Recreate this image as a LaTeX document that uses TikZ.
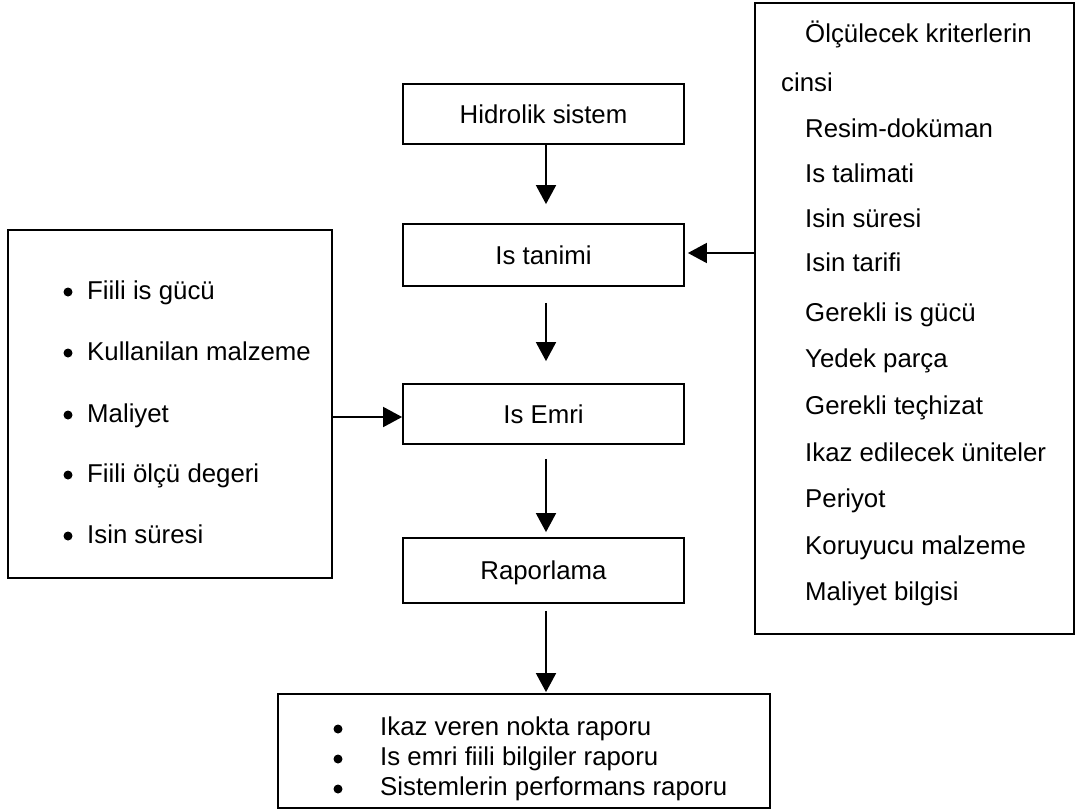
\documentclass[tikz,border=0pt]{standalone}
\usepackage{fontspec}
\setmainfont{Liberation Sans}
\usetikzlibrary{arrows.meta}
\begin{document}
\begin{tikzpicture}[x=1pt,y=-1pt,
  box/.style={draw, line width=1.8pt, inner sep=0pt, text height=18.6pt, text depth=0pt,
              font=\fontsize{25.8}{30}\selectfont},
  txt/.style={anchor=base west, inner sep=0pt, font=\fontsize{25.8}{30}\selectfont},
  arr/.style={-{Triangle[length=19pt,width=20pt]}, line width=1.8pt},
  dot/.style={circle, fill, inner sep=0pt, minimum size=9pt}]
\useasboundingbox (0,0) rectangle (1075,809);

% main column
\node[box, minimum width=281pt, minimum height=60pt] (hid) at (543.5,114) {Hidrolik sistem};
\node[box, minimum width=281pt, minimum height=62pt] (tan) at (543.5,255) {Is tanimi};
\node[box, minimum width=281pt, minimum height=60pt] (emri) at (543.5,414) {Is Emri};
\node[box, minimum width=281pt, minimum height=65pt] (rap) at (543.5,570.5) {Raporlama};

% side boxes
\node[box, minimum width=324pt, minimum height=348pt] (left) at (170,404) {};
\node[box, minimum width=319pt, minimum height=631pt] (right) at (914.5,318.5) {};
\node[box, minimum width=492pt, minimum height=114pt] (bot) at (524,751) {};

% left box contents
\foreach \t/\b [count=\i] in {Fiili is gücü/299, Kullanilan malzeme/360, Maliyet/422, Fiili ölçü degeri/482, Isin süresi/543}{
  \node[dot] (lb\i) at (68,\b-7) {};
  \node[txt] (lt\i) at (87,\b) {\t};
}

% right box contents
\node[txt] (r0) at (805,42) {Ölçülecek kriterlerin};
\node[txt] (r1) at (781,91) {cinsi};
\foreach \t/\b [count=\i from 2] in {Resim-doküman/137, Is talimati/182, Isin süresi/227, Isin tarifi/271,
  Gerekli is gücü/321, Yedek parça/367, Gerekli teçhizat/414, Ikaz edilecek üniteler/461,
  Periyot/507, Koruyucu malzeme/554, Maliyet bilgisi/600}{
  \node[txt] (r\i) at (805,\b) {\t};
}

% bottom box contents
\foreach \t/\b [count=\i] in {Ikaz veren nokta raporu/735, Is emri fiili bilgiler raporu/765, Sistemlerin performans raporu/795}{
  \node[dot] (bb\i) at (338,\b-6) {};
  \node[txt] (bt\i) at (380,\b) {\t};
}

% connectors
\draw[arr, shorten >=19pt] ([xshift=2.5pt]hid.south) -- ([xshift=2.5pt]tan.north);
\draw[arr, shorten <=16pt, shorten >=22pt] ([xshift=2.5pt]tan.south) -- ([xshift=2.5pt]emri.north);
\draw[arr, shorten <=14pt, shorten >=5pt] ([xshift=2.5pt]emri.south) -- ([xshift=2.5pt]rap.north);
\draw[arr, shorten <=7pt, shorten >=1pt] ([xshift=2.5pt]rap.south) -- ([xshift=2.5pt]bot.north -| rap.south);

\coordinate (ein) at ([yshift=-3pt]emri.west);
\draw[arr] (left.east |- ein) -- (ein);
\coordinate (tin) at ([yshift=2pt]tan.east);
\draw[arr, shorten >=3pt] (right.west |- tin) -- (tin);
\end{tikzpicture}
\end{document}
